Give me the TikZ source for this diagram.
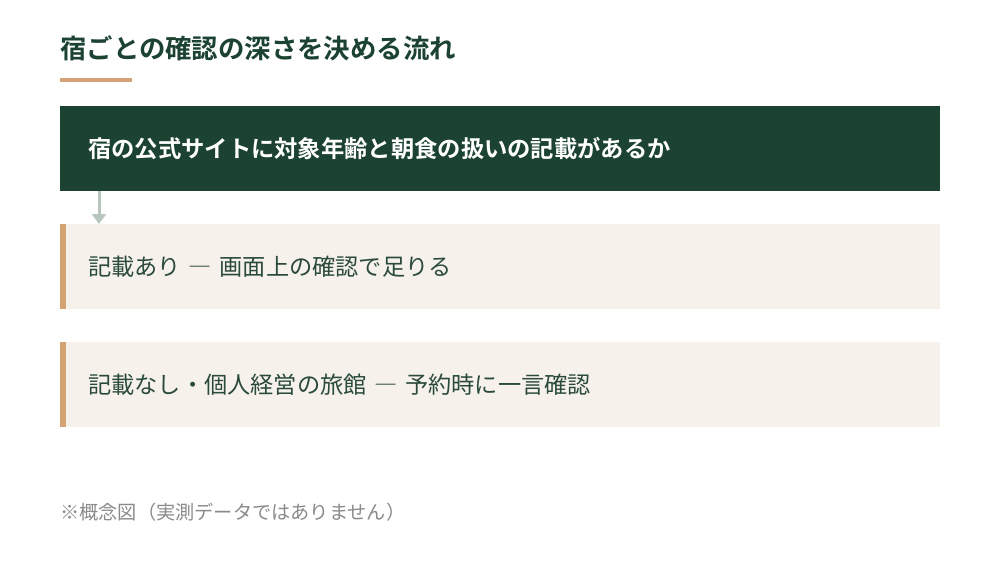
\documentclass[tikz,border=0pt]{standalone}
\usepackage{fontspec}
\setmainfont{Noto Sans CJK JP}
\newfontfamily\jpbold{Noto Sans CJK JP Bold}
\usetikzlibrary{calc,arrows.meta}
\definecolor{dkgreen}{HTML}{1C4332}
\definecolor{txtgreen}{HTML}{2A4A3C}
\definecolor{accent}{HTML}{D4A373}
\definecolor{cream}{HTML}{F6F1EA}
\definecolor{arrowc}{HTML}{B7C7BE}
\definecolor{notegray}{HTML}{8A8A8A}
\tikzset{
  topbox/.style={rectangle, fill=dkgreen, text=white, anchor=north west, minimum width=880pt, minimum height=85pt, text width=824pt, inner xsep=28pt, inner ysep=0pt, align=left, font=\jpbold\fontsize{23.3pt}{28pt}\selectfont},
  optbox/.style={rectangle, fill=cream, text=txtgreen, anchor=north west, minimum width=880pt, minimum height=85pt, text width=824pt, inner xsep=28pt, inner ysep=0pt, align=left, font=\fontsize{23.2pt}{28pt}\selectfont},
  flowarrow/.style={draw=arrowc, line width=3pt, -{Triangle[width=14pt,length=10pt]}},
}
\begin{document}
\begin{tikzpicture}[x=1pt,y=-1pt]
\useasboundingbox[fill=white] (0,0) rectangle (1000,570);
\node[anchor=west, inner sep=0pt, text=dkgreen, font=\jpbold\fontsize{26.4pt}{31pt}\selectfont] (title) at (60,48) {宿ごとの確認の深さを決める流れ};
\fill[accent] (60,78) rectangle (132,82);
\node[topbox] (q) at (60,106) {宿の公式サイトに対象年齢と朝食の扱いの記載があるか};
\node[optbox] (a1) at (60,224) {記載あり ― 画面上の確認で足りる};
\node[optbox] (a2) at (60,342) {記載なし・個人経営の旅館 ― 予約時に一言確認};
\fill[accent] (a1.north west) rectangle ($(a1.south west)+(6,0)$);
\fill[accent] (a2.north west) rectangle ($(a2.south west)+(6,0)$);
\draw[flowarrow] ($(q.south west)+(39,0)$) -- ($(a1.north west)+(39,0)$);
\node[anchor=west, inner sep=0pt, text=notegray, font=\fontsize{19.2pt}{23pt}\selectfont] (note) at (60,512) {※概念図（実測データではありません）};
\end{tikzpicture}
\end{document}
